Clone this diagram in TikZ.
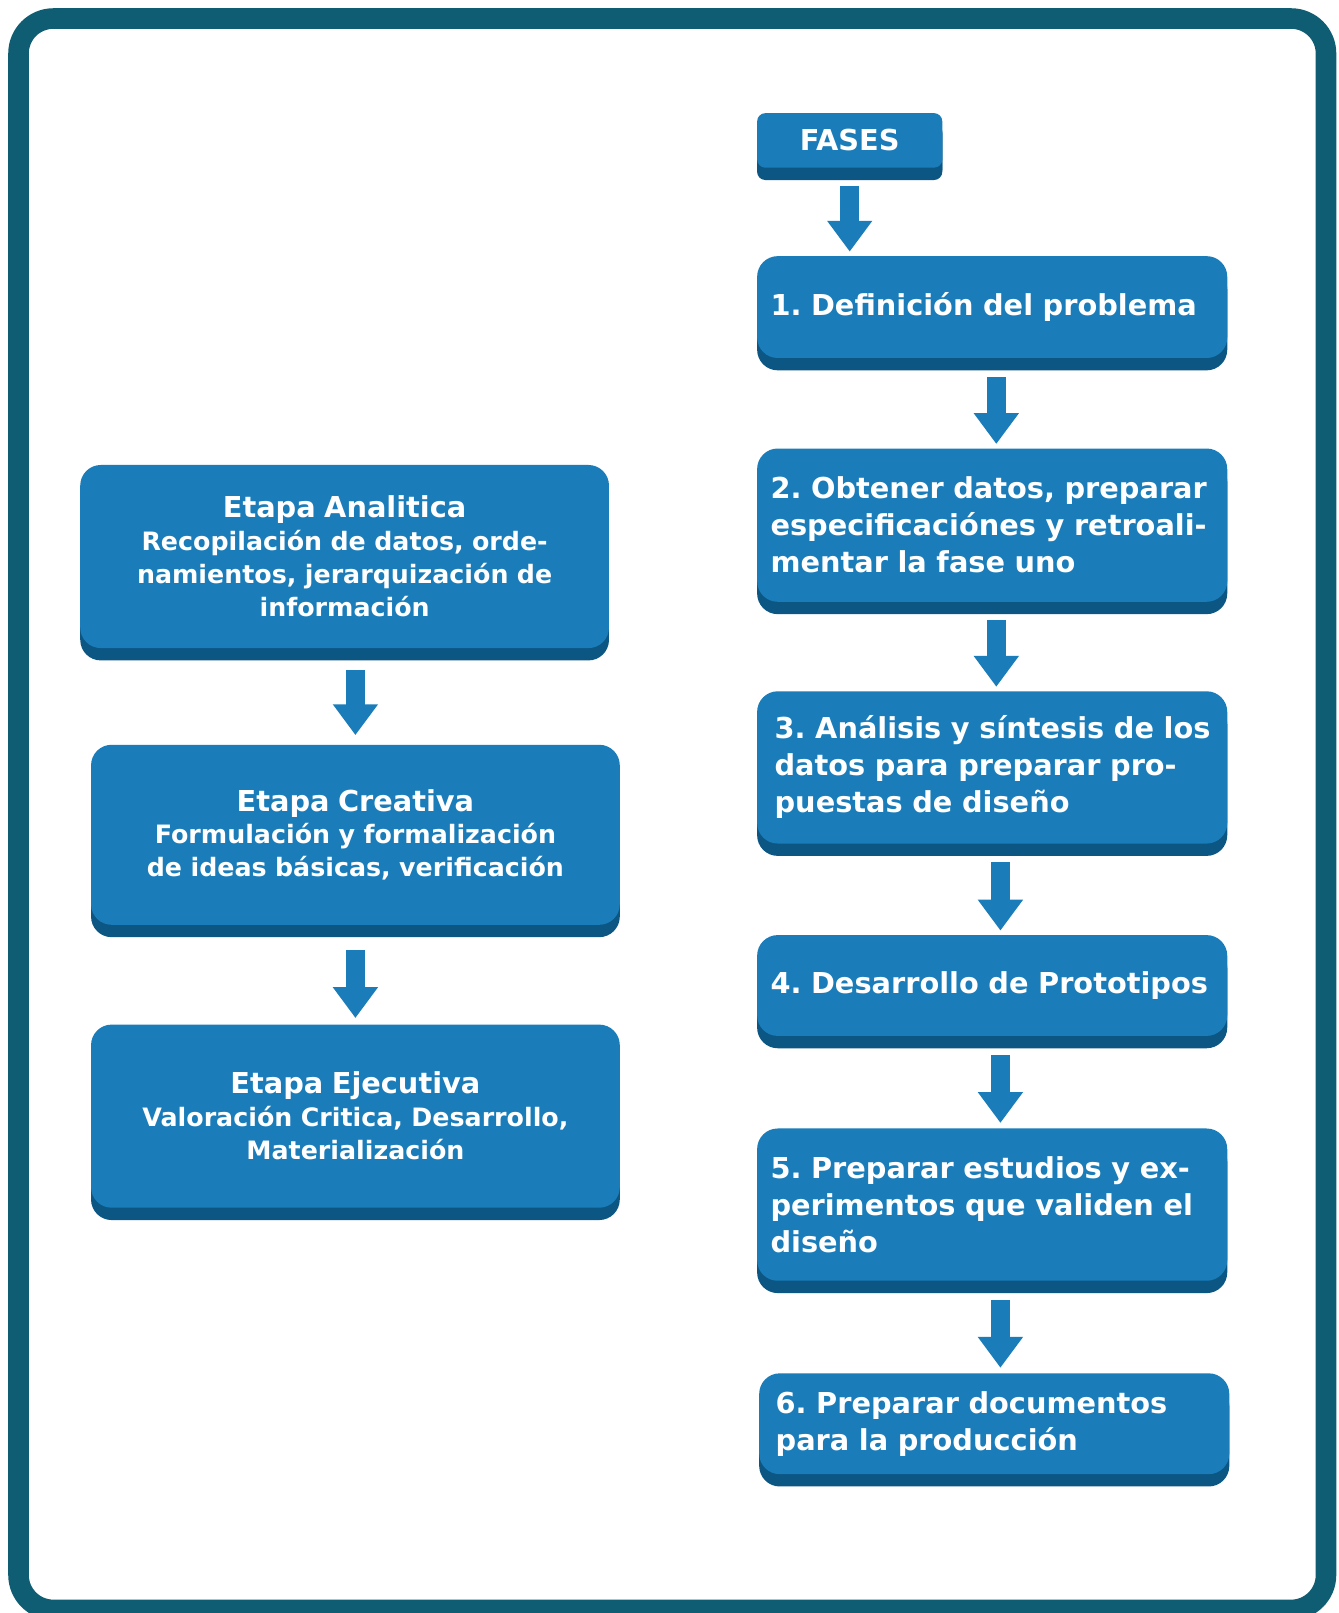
\documentclass[tikz,border=0pt]{standalone}
\usepackage{fontspec}
\setmainfont{DejaVu Sans}
\usetikzlibrary{arrows.meta,shadows,calc}
\definecolor{face}{RGB}{26,125,186}
\definecolor{shade}{RGB}{12,86,132}
\definecolor{framec}{RGB}{14,93,114}
\newcommand\ttlfont{\fontsize{14}{16.5}\selectfont}
\tikzset{
  box/.style={rounded corners=10pt, fill=face, text=white, font=\fontsize{14}{18}\selectfont\bfseries\frenchspacing,
    drop shadow={shadow xshift=0pt, shadow yshift=-6pt, fill=shade, opacity=1},
    inner ysep=0pt},
  rbox/.style={box, inner xsep=6.5pt, text width=215.5pt, align=left, minimum width=228.5pt},
  lbox/.style={box, inner xsep=6pt, text width=245pt, align=center, minimum width=257pt,
    font=\fontsize{12.3}{16}\selectfont\bfseries\frenchspacing},
  blockarr/.style={draw=face, line width=9pt, -{Triangle[width=21pt,length=15pt]}},
  framebox/.style={draw=framec, line width=10pt, rounded corners=17pt}
}
\begin{document}
\begin{tikzpicture}[x=0.5pt,y=-0.5pt]
\useasboundingbox (0,0) rectangle (1301,1568);
\fill[white] (0,0) rectangle (1301,1568);
\draw[framebox] (18,18) rectangle (1289,1565);

% right column
\node[box, rounded corners=4pt, minimum width=90pt, minimum height=26.5pt, inner xsep=0pt,
      drop shadow={shadow xshift=0pt, shadow yshift=-5pt, fill=shade, opacity=1}] (f0) at (826,136.5) {FASES};
\node[rbox, minimum height=49.5pt] (r1) at (964.5,298.5) {1. Definición del problema};
\node[rbox, minimum height=74.5pt] (r2) at (964.5,510.5) {2. Obtener datos, preparar\\especificaciónes y retroali-\\mentar la fase uno};
\node[rbox, minimum height=74pt] (r3) at (964.5,746) {\hspace*{2pt}3. Análisis y síntesis de los\\\hspace*{2pt}datos para preparar pro-\\\hspace*{2pt}puestas de diseño};
\node[rbox, minimum height=49pt] (r4) at (964.5,958) {4. Desarrollo de Prototipos};
\node[rbox, minimum height=74pt] (r5) at (964.5,1171) {5. Preparar estudios y ex-\\perimentos que validen el\\diseño};
\node[rbox, minimum height=49pt, inner xsep=8pt, text width=212.5pt] (r6) at (966.5,1384) {6. Preparar documentos\\para la producción};

% left column
\node[lbox, minimum height=89pt] (l1) at (335,541) {{\ttlfont Etapa Analitica}\\Recopilación de datos, orde-\\namientos, jerarquización de\\información};
\node[lbox, minimum height=87.5pt] (l2) at (345.5,811.5) {{\ttlfont Etapa Creativa}\\Formulación y formalización\\de ideas básicas, verificación};
\node[lbox, minimum height=89pt] (l3) at (345.5,1085) {{\ttlfont Etapa Ejecutiva}\\Valoración Critica, Desarrollo,\\Materialización};

% arrows
\draw[blockarr] ($(f0.south)+(0,17)$) -- ($(f0.south |- r1.north)+(0,-4)$);
\draw[blockarr] ($(r1.south)+(4,18)$) -- ($(r2.north)+(4,-4)$);
\draw[blockarr] ($(r2.south)+(4,17)$) -- ($(r3.north)+(4,-4)$);
\draw[blockarr] ($(r3.south)+(8,18)$) -- ($(r4.north)+(8,-4)$);
\draw[blockarr] ($(r4.south)+(8,18)$) -- ($(r5.north)+(8,-5)$);
\draw[blockarr] ($(r5.south)+(8,18)$) -- ($(r6.north)+(6,-5)$);
\draw[blockarr] ($(l1.south -| l2.north)+(0,21)$) -- ($(l2.north)+(0,-9)$);
\draw[blockarr] ($(l2.south)+(0,24)$) -- ($(l3.north)+(0,-6)$);
\end{tikzpicture}
\end{document}
